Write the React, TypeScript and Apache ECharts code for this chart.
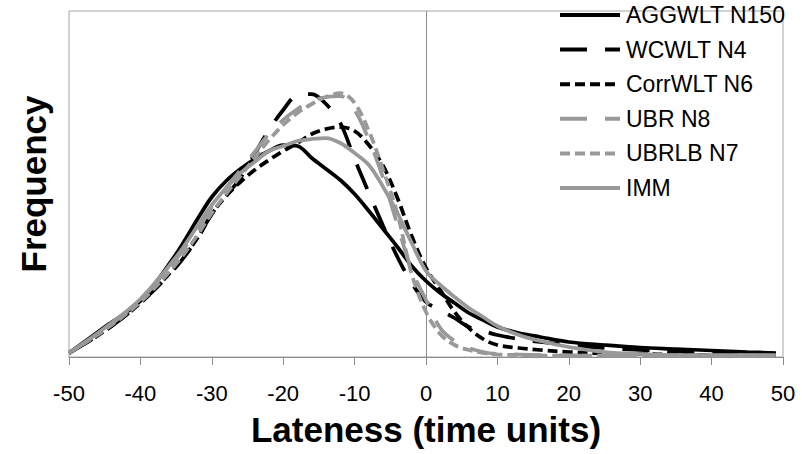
import React, { useEffect, useRef } from "react";
import * as echarts from "echarts";

const lateness = [-50, -45, -40, -35, -32, -30, -28, -26, -24, -22, -20, -18, -16, -14, -12, -10, -8, -6, -4, -2, 0, 2, 4, 6, 8, 10, 13, 16, 20, 25, 30, 35, 40, 45, 49];

const aggwlt = [0.4, 3.0, 5.6, 10.3, 13.8, 16.0, 17.6, 18.8, 19.8, 20.6, 21.2, 21.1, 19.9, 18.8, 17.7, 16.3, 14.6, 12.8, 11.0, 9.1, 7.6, 6.4, 5.4, 4.4, 3.7, 3.0, 2.4, 2.0, 1.5, 1.2, 0.95, 0.8, 0.65, 0.5, 0.4];
const wcwlt = [0.4, 2.6, 5.4, 9.0, 11.9, 14.3, 16.1, 17.9, 20.3, 22.7, 24.7, 26.2, 26.3, 25.3, 23.4, 19.8, 16.4, 13.1, 10.0, 7.4, 5.5, 4.7, 3.9, 3.0, 2.6, 2.2, 1.8, 1.5, 1.2, 0.9, 0.7, 0.55, 0.45, 0.4, 0.35];
const corrwlt = [0.4, 2.6, 5.4, 9.1, 11.9, 14.3, 16.1, 17.5, 18.7, 19.7, 20.6, 21.4, 22.3, 22.8, 23.0, 22.6, 21.2, 19.1, 15.9, 12.1, 8.9, 6.7, 4.5, 2.9, 1.8, 1.2, 0.9, 0.7, 0.5, 0.35, 0.3, 0.25, 0.2, 0.2, 0.2];
const ubr = [0.4, 2.8, 5.7, 9.8, 12.8, 15.0, 16.9, 18.7, 20.5, 22.3, 23.7, 24.8, 25.6, 26.0, 26.1, 24.7, 21.7, 17.9, 13.2, 8.7, 5.7, 2.9, 1.6, 0.9, 0.5, 0.3, 0.25, 0.2, 0.15, 0.15, 0.15, 0.15, 0.15, 0.15, 0.15];
const ubrlb = [0.4, 2.7, 5.5, 9.3, 12.2, 14.4, 16.3, 18.1, 19.9, 21.7, 23.2, 24.4, 25.3, 26.0, 26.4, 25.4, 22.6, 18.7, 14.3, 8.3, 4.5, 2.3, 1.2, 0.7, 0.4, 0.25, 0.2, 0.15, 0.15, 0.15, 0.15, 0.15, 0.15, 0.15, 0.15];
const imm = [0.4, 2.9, 5.8, 10.0, 13.1, 15.2, 16.9, 18.4, 19.5, 20.6, 21.1, 21.6, 21.8, 21.9, 21.4, 20.4, 19.2, 17.0, 14.4, 11.4, 8.6, 7.2, 6.0, 4.9, 4.0, 3.1, 2.2, 1.6, 1.0, 0.5, 0.3, 0.2, 0.2, 0.2, 0.2];

const seriesNames = ["AGGWLT N150", "WCWLT N4", "CorrWLT N6", "UBR N8", "UBRLB N7", "IMM"];
const seriesValues = [aggwlt, wcwlt, corrwlt, ubr, ubrlb, imm];
const seriesColors = ["#000000", "#000000", "#000000", "#999999", "#999999", "#999999"];
const seriesDash: any[] = [null, [27, 18], [10, 5], [27, 18], [10, 5], null];

const xTicks = { min: -50, max: 50, interval: 10 };
const FONT = "'Liberation Sans', Arial, sans-serif";
const LINE_W = 3.75;

export default function App() {
  const ref = useRef<HTMLDivElement>(null);
  useEffect(() => {
    if (!ref.current) return;
    const chart = echarts.init(ref.current, undefined, { renderer: "svg" });
    const series: any[] = seriesNames.map((name, k) => ({
      name,
      type: "line",
      data: lateness.map((t, i) => [t, seriesValues[k][i]]),
      smooth: 0.35,
      symbol: "none",
      showSymbol: false,
      lineStyle: {
        color: seriesColors[k],
        width: LINE_W,
        type: seriesDash[k] ? seriesDash[k] : "solid",
        cap: "butt",
      },
      itemStyle: { color: seriesColors[k] },
      z: 2 + k,
    }));
    series[0].markLine = {
      silent: true,
      symbol: "none",
      label: { show: false },
      lineStyle: { color: "#8c8c8c", width: 1, type: "solid" },
      data: [{ xAxis: 0 }],
      z: 1,
    };
    const legendGraphics: any[] = [];
    seriesNames.forEach((name, k) => {
      const y = 15 + 34.6 * k;
      legendGraphics.push({
        type: "line",
        shape: { x1: 560, y1: y, x2: 620, y2: y },
        style: {
          stroke: seriesColors[k],
          lineWidth: 4,
          lineDash: seriesDash[k] ? seriesDash[k] : null,
          lineCap: "butt",
        },
        z: 100,
      });
      legendGraphics.push({
        type: "text",
        x: 626,
        y,
        style: {
          text: name,
          fill: "#000",
          font: `23px ${FONT}`,
          textVerticalAlign: "middle",
          verticalAlign: "middle",
        },
        z: 100,
      });
    });
    chart.setOption({
      animation: false,
      backgroundColor: "#ffffff",
      grid: {
        left: 69,
        right: 19,
        top: 11,
        bottom: 97,
        show: true,
        borderColor: "#a6a6a6",
        borderWidth: 1,
      },
      graphic: legendGraphics,
      xAxis: {
        type: "value",
        min: xTicks.min,
        max: xTicks.max,
        interval: xTicks.interval,
        name: "Lateness (time units)",
        nameLocation: "middle",
        nameGap: 55,
        nameTextStyle: { fontFamily: FONT, fontSize: 35, fontWeight: "bold", color: "#000" },
        axisLine: { show: true, onZero: false, lineStyle: { color: "#8c8c8c", width: 1 } },
        axisTick: { show: true, length: 8, lineStyle: { color: "#8c8c8c", width: 1 } },
        axisLabel: { margin: 25, fontFamily: FONT, fontSize: 22, color: "#000" },
        splitLine: { show: false },
      },
      yAxis: {
        type: "value",
        min: 0,
        max: 34.6,
        name: "Frequency",
        nameLocation: "middle",
        nameGap: 18,
        nameTextStyle: { fontFamily: FONT, fontSize: 35, fontWeight: "bold", color: "#000" },
        axisLine: { show: false },
        axisTick: { show: false },
        axisLabel: { show: false },
        splitLine: { show: false },
      },
      series,
    });
    return () => chart.dispose();
  }, []);
  return <div ref={ref} style={{ width: 802, height: 454, position: "absolute", left: 0, top: 0 }} />;
}
